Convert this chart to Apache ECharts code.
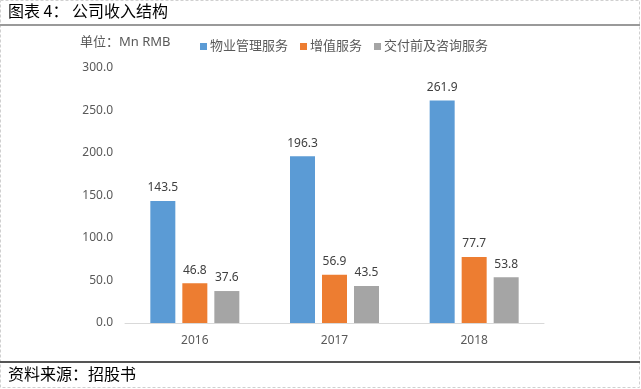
<!DOCTYPE html>
<html><head><meta charset="utf-8">
<script src="https://cdn.jsdelivr.net/npm/echarts@6/dist/echarts.min.js"></script>
<style>html,body{margin:0;padding:0;background:#fff}#c{width:641px;height:389px}</style>
</head><body><div id="c"></div>
<script>
var categories = ['2016', '2017', '2018'];
var seriesNames = ['物业管理服务', '增值服务', '交付前及咨询服务'];
var propertyMgmt = [143.5, 196.3, 261.9];
var valueAdded = [46.8, 56.9, 77.7];
var preDelivery = [37.6, 43.5, 53.8];
var yTicks = [0, 50, 100, 150, 200, 250, 300];

var colors = ['#5B9BD5', '#ED7D31', '#A5A5A5'];
var font = '"Noto Sans", "Noto Sans CJK SC", sans-serif';
var chart = echarts.init(document.getElementById('c'), null, {renderer: 'canvas'});
function mk(name, data, i) {
  return {
    name: name, type: 'bar', data: data, barWidth: 25, barGap: '28%',
    itemStyle: {color: colors[i]},
    label: {show: true, position: 'top', distance: 7, color: '#404040', fontSize: 12, fontFamily: font,
      formatter: function (p) { return p.value.toFixed(1); }}
  };
}
chart.setOption({
  animation: false,
  textStyle: {fontFamily: font},
  grid: {left: 125, right: 97, top: 68, bottom: 66, containLabel: false},
  legend: {
    data: seriesNames, left: 195, top: 35, itemWidth: 7, itemHeight: 7, itemGap: 12,
    icon: 'rect', textStyle: {color: '#595959', fontSize: 13, fontFamily: font, padding: [0, 0, 0, -2]}
  },
  xAxis: {
    type: 'category', data: categories,
    axisLine: {lineStyle: {color: '#D9D9D9'}}, axisTick: {show: false},
    axisLabel: {color: '#595959', fontSize: 12, margin: 12}
  },
  yAxis: {
    type: 'value', min: yTicks[0], max: yTicks[yTicks.length - 1], interval: 50,
    splitLine: {show: false}, axisLine: {show: false}, axisTick: {show: false},
    axisLabel: {color: '#595959', fontSize: 12, margin: 12, formatter: function (v) { return v.toFixed(1); }}
  },
  graphic: [
    {type: 'rect', shape: {x: 0.5, y: 0.5, width: 639, height: 387}, style: {fill: null, stroke: '#D0D0D0', lineDash: [3, 2], lineWidth: 1}},
    {type: 'text', left: 8, top: 3, style: {text: '图表 4： 公司收入结构', fill: '#000', font: '16px "Noto Sans CJK SC"'}},
    {type: 'rect', shape: {x: 0, y: 24, width: 640, height: 2}, style: {fill: '#9A9A9A'}},
    {type: 'text', left: 80, top: 36, style: {text: '单位：Mn RMB', fill: '#595959', font: '13px "Noto Sans", "Noto Sans CJK SC"'}},
    {type: 'rect', shape: {x: 0, y: 361, width: 640, height: 2}, style: {fill: '#555555'}},
    {type: 'text', left: 8, top: 366, style: {text: '资料来源：招股书', fill: '#000', font: '16px "Noto Sans CJK SC"'}}
  ],
  series: [mk(seriesNames[0], propertyMgmt, 0), mk(seriesNames[1], valueAdded, 1), mk(seriesNames[2], preDelivery, 2)]
});
</script></body></html>
